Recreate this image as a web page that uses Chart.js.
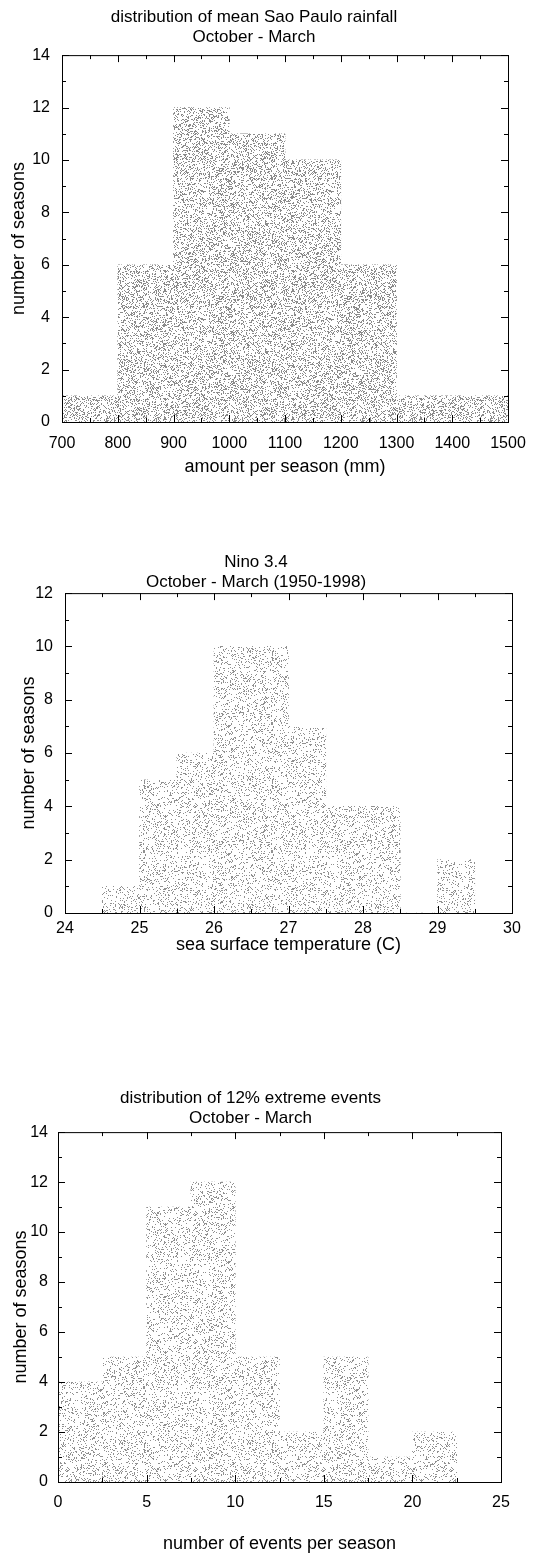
<!DOCTYPE html>
<html>
<head>
<meta charset="utf-8">
<script src="https://cdn.jsdelivr.net/npm/chart.js@4"></script>
<style>
body{margin:0;background:#fff;width:545px;height:1555px;position:relative;overflow:hidden}
.box{position:absolute;left:0;width:545px}
</style>
</head>
<body>
<div class="box" style="top:0;height:478px"><canvas id="c1"></canvas></div>
<div class="box" style="top:545px;height:411px"><canvas id="c2"></canvas></div>
<div class="box" style="top:1081px;height:474px"><canvas id="c3"></canvas></div>
<script>
// chart 1: Sao Paulo rainfall
var rainBins = [750, 850, 950, 1050, 1150, 1250, 1350, 1450];
var rainCounts = [1, 6, 12, 11, 10, 6, 1, 1];
// chart 2: Nino 3.4
var sstBins = [24.75, 25.25, 25.75, 26.25, 26.75, 27.25, 27.75, 28.25, 28.75, 29.25];
var sstCounts = [1, 5, 6, 10, 10, 7, 4, 4, 0, 2];
// chart 3: extreme events
var evBins = [1.25, 3.75, 6.25, 8.75, 11.25, 13.75, 16.25, 18.75, 21.25];
var evCounts = [4, 5, 11, 12, 5, 2, 5, 1, 2];

// stipple fill
function stipple(density, col){
  var c = document.createElement('canvas');
  c.width = 128; c.height = 128;
  var g = c.getContext('2d');
  g.fillStyle = '#fff'; g.fillRect(0,0,128,128);
  var s = 98765;
  function rnd(){ s = (s*1103515245 + 12345) % 2147483648; return s/2147483648; }
  g.fillStyle = col;
  for(var i=0;i<128*128*density;i++){
    g.fillRect(Math.floor(rnd()*128), Math.floor(rnd()*128), 1, 1);
  }
  return g.createPattern(c, 'repeat');
}

var frame = {
  id:'frame',
  afterDraw:function(ch){
    var a = ch.chartArea, g = ch.ctx;
    g.save(); g.strokeStyle='#000'; g.lineWidth=1;
    g.strokeRect(a.left+0.5, a.top+0.5, a.right-a.left, a.bottom-a.top);
    var x = ch.scales.x, y = ch.scales.y;
    var xs = ch.options.scales.x.ticks.stepSize, ys = 2;
    g.beginPath();
    for(var v=x.min; v<=x.max+1e-9; v+=xs/2){
      var major = Math.abs((v-x.min)/xs - Math.round((v-x.min)/xs))<1e-6;
      var L = major?7:4;
      var px = Math.round(x.getPixelForValue(v))+0.5;
      g.moveTo(px,a.bottom); g.lineTo(px,a.bottom-L);
      g.moveTo(px,a.top); g.lineTo(px,a.top+L);
    }
    for(var w=0; w<=y.max+1e-9; w+=ys/2){
      var majorY = (w % ys)===0;
      var LY = majorY?7:4;
      var py = Math.round(y.getPixelForValue(w))+0.5;
      g.moveTo(a.left,py); g.lineTo(a.left+LY,py);
      g.moveTo(a.right,py); g.lineTo(a.right-LY,py);
    }
    g.stroke(); g.restore();
  }
};

var FONT = 'Liberation Sans';

function hist(id, bins, counts, title, xlabel, xmin, xmax, xstep, ymax, fill, L){
  var pts = bins.map(function(b,i){ return {x:b, y:counts[i]}; });
  new Chart(document.getElementById(id), {
    type:'bar',
    data:{datasets:[{data:pts, backgroundColor:fill, borderWidth:0,
      barPercentage:1, categoryPercentage:1}]},
    options:{
      responsive:true, maintainAspectRatio:false, animation:false,
      layout:{padding:{left:0, right:L.right, top:0, bottom:0}},
      plugins:{legend:{display:false}, tooltip:{enabled:false},
        title:{display:true, text:title, color:'#000', padding:{top:7,bottom:L.tpad},
          font:{family:FONT, size:17, weight:'normal', lineHeight:1.18}}},
      scales:{
        x:{type:'linear', min:xmin, max:xmax, offset:false,
          afterFit:function(s){ s.height = L.xh; },
          ticks:{stepSize:xstep, color:'#000', font:{family:FONT, size:16}, padding:L.xtp, maxRotation:0,
            callback:function(v){ return String(v); }},
          grid:{display:false, drawTicks:false}, border:{display:false},
          title:{display:true, text:xlabel, color:'#000', padding:{top:0,bottom:0},
            font:{family:FONT, size:18}}},
        y:{min:0, max:ymax,
          afterFit:function(s){ s.width = L.yw; },
          ticks:{stepSize:2, color:'#000', font:{family:FONT, size:16}, padding:L.ytp},
          grid:{display:false, drawTicks:false}, border:{display:false},
          title:{display:true, text:'number of seasons', color:'#000', padding:{top:L.ytitle,bottom:0},
            font:{family:FONT, size:18}}}
      }
    },
    plugins:[frame]
  });
}

hist('c1', rainBins, rainCounts, ['distribution of mean Sao Paulo rainfall','October - March'],
  'amount per season (mm)', 700, 1500, 100, 14, stipple(0.3,'#8a8a8a'),
  {right:37, tpad:8, xh:56, xtp:12, yw:62, ytp:12, ytitle:8});
hist('c2', sstBins, sstCounts, ['Nino 3.4','October - March (1950-1998)'],
  'sea surface temperature (C)', 24, 30, 1, 12, stipple(0.17,'#909090'),
  {right:33, tpad:1, xh:43, xtp:6, yw:65, ytp:12, ytitle:18});
hist('c3', evBins, evCounts, ['distribution of 12% extreme events','October - March'],
  'number of events per season', 0, 25, 5, 14, stipple(0.17,'#909090'),
  {right:44, tpad:4, xh:73, xtp:11, yw:58, ytp:10, ytitle:10});
</script>
</body>
</html>
